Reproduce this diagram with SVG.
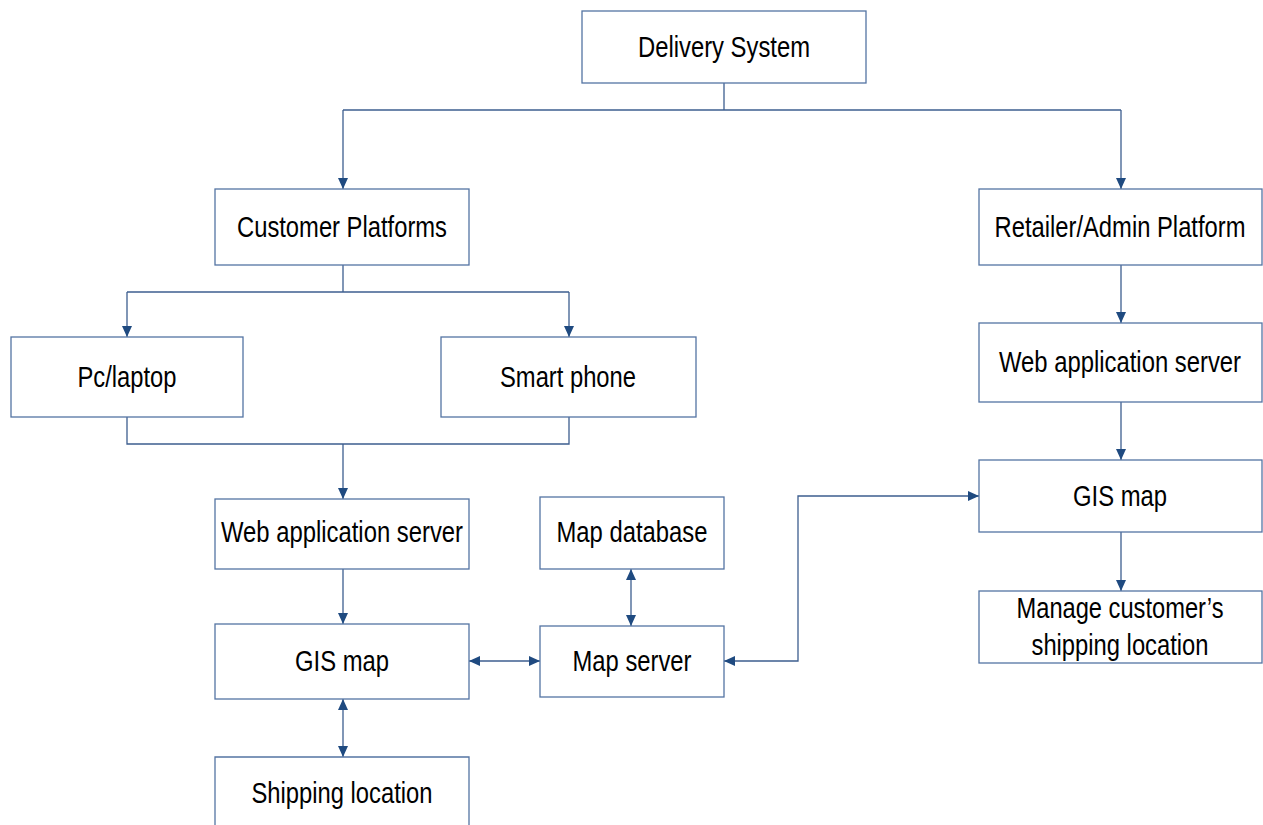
<svg xmlns="http://www.w3.org/2000/svg" width="1263" height="825" viewBox="0 0 1263 825">
  <style>
    .box { fill: #ffffff; stroke: #5474a3; stroke-width: 1.3; }
    .lbl { font-family: "Liberation Sans Narrow", "Liberation Sans", Arial, sans-serif; font-size: 29px; fill: #000000; text-anchor: middle; }
    .wire { fill: none; stroke: #3d5e8f; stroke-width: 1.3; }
  </style>
  <defs>
    <marker id="arrow" markerUnits="userSpaceOnUse" markerWidth="12" markerHeight="12" refX="11" refY="5" orient="auto-start-reverse" viewBox="0 0 12 10">
      <path d="M0,0 L11,5 L0,10 Z" fill="#1f4a80"/>
    </marker>
  </defs>
  <rect width="1263" height="825" fill="#ffffff"/>

  <g id="connectors">
    <!-- root to both platforms -->
    <polyline class="wire" points="724,83 724,110"/>
    <polyline class="wire" points="343,110 1121,110"/>
    <polyline class="wire" points="343,110 343,189" marker-end="url(#arrow)"/>
    <polyline class="wire" points="1121,110 1121,189" marker-end="url(#arrow)"/>
    <!-- customer platforms to devices -->
    <polyline class="wire" points="343,265 343,292"/>
    <polyline class="wire" points="127,292 569,292"/>
    <polyline class="wire" points="127,292 127,337" marker-end="url(#arrow)"/>
    <polyline class="wire" points="569,292 569,337" marker-end="url(#arrow)"/>
    <!-- devices merge into web server -->
    <polyline class="wire" points="127,417 127,444 569,444 569,417"/>
    <polyline class="wire" points="343,444 343,499" marker-end="url(#arrow)"/>
    <polyline class="wire" points="343,569 343,624" marker-end="url(#arrow)"/>
    <!-- two-way links -->
    <polyline class="wire" points="343,699 343,757" marker-start="url(#arrow)" marker-end="url(#arrow)"/>
    <polyline class="wire" points="469,661 540,661" marker-start="url(#arrow)" marker-end="url(#arrow)"/>
    <polyline class="wire" points="631,569 631,626" marker-start="url(#arrow)" marker-end="url(#arrow)"/>
    <polyline class="wire" points="724,661 798,661 798,496 979,496" marker-start="url(#arrow)" marker-end="url(#arrow)"/>
    <!-- retailer chain -->
    <polyline class="wire" points="1121,265 1121,323" marker-end="url(#arrow)"/>
    <polyline class="wire" points="1121,402 1121,460" marker-end="url(#arrow)"/>
    <polyline class="wire" points="1121,532 1121,591" marker-end="url(#arrow)"/>
  </g>

  <g id="delivery-system">
    <rect class="box" x="582" y="11" width="284" height="72"/>
    <text class="lbl" x="724" y="57" textLength="172" lengthAdjust="spacingAndGlyphs">Delivery System</text>
  </g>
  <g id="customer-platforms">
    <rect class="box" x="215" y="189" width="254" height="76"/>
    <text class="lbl" x="342" y="237" textLength="210" lengthAdjust="spacingAndGlyphs">Customer Platforms</text>
  </g>
  <g id="retailer-platform">
    <rect class="box" x="979" y="189" width="283" height="76"/>
    <text class="lbl" x="1120" y="237" textLength="251" lengthAdjust="spacingAndGlyphs">Retailer/Admin Platform</text>
  </g>
  <g id="pc-laptop">
    <rect class="box" x="11" y="337" width="232" height="80"/>
    <text class="lbl" x="127" y="387" textLength="99" lengthAdjust="spacingAndGlyphs">Pc/laptop</text>
  </g>
  <g id="smart-phone">
    <rect class="box" x="441" y="337" width="255" height="80"/>
    <text class="lbl" x="568" y="387" textLength="136" lengthAdjust="spacingAndGlyphs">Smart phone</text>
  </g>
  <g id="web-server-retailer">
    <rect class="box" x="979" y="323" width="283" height="79"/>
    <text class="lbl" x="1120" y="372" textLength="242" lengthAdjust="spacingAndGlyphs">Web application server</text>
  </g>
  <g id="gis-map-retailer">
    <rect class="box" x="979" y="460" width="283" height="72"/>
    <text class="lbl" x="1120" y="506" textLength="94" lengthAdjust="spacingAndGlyphs">GIS map</text>
  </g>
  <g id="manage-shipping">
    <rect class="box" x="979" y="591" width="283" height="72"/>
    <text class="lbl" x="1120" y="618" textLength="207" lengthAdjust="spacingAndGlyphs">Manage customer’s</text>
    <text class="lbl" x="1120" y="655" textLength="177" lengthAdjust="spacingAndGlyphs">shipping location</text>
  </g>
  <g id="web-server-customer">
    <rect class="box" x="215" y="499" width="254" height="70"/>
    <text class="lbl" x="342" y="542" textLength="242" lengthAdjust="spacingAndGlyphs">Web application server</text>
  </g>
  <g id="map-database">
    <rect class="box" x="540" y="497" width="184" height="72"/>
    <text class="lbl" x="632" y="542" textLength="151" lengthAdjust="spacingAndGlyphs">Map database</text>
  </g>
  <g id="gis-map-customer">
    <rect class="box" x="215" y="624" width="254" height="75"/>
    <text class="lbl" x="342" y="671" textLength="94" lengthAdjust="spacingAndGlyphs">GIS map</text>
  </g>
  <g id="map-server">
    <rect class="box" x="540" y="626" width="184" height="71"/>
    <text class="lbl" x="632" y="671" textLength="119" lengthAdjust="spacingAndGlyphs">Map server</text>
  </g>
  <g id="shipping-location">
    <path class="box" d="M215,826 L215,757 L469,757 L469,826"/>
    <text class="lbl" x="342" y="803" textLength="181" lengthAdjust="spacingAndGlyphs">Shipping location</text>
  </g>
</svg>
